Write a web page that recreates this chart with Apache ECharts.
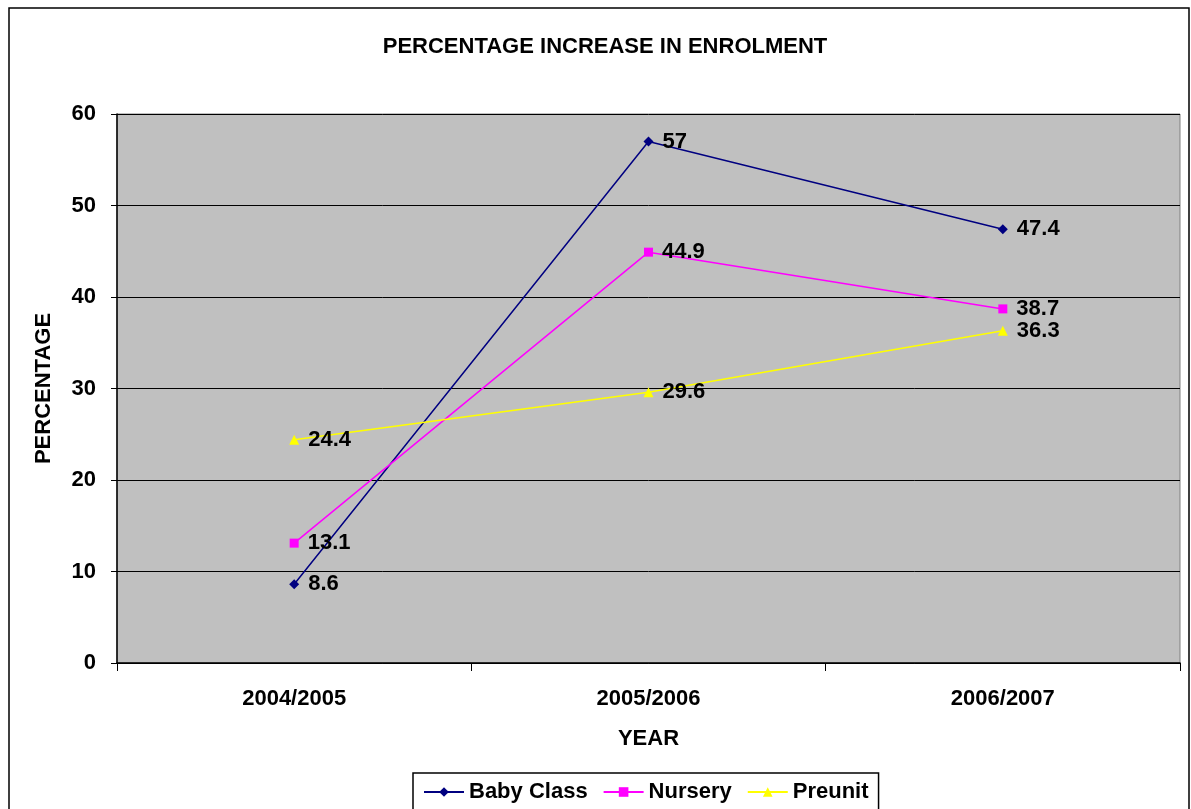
<!DOCTYPE html>
<html><head><meta charset="utf-8">
<script src="https://cdn.jsdelivr.net/npm/echarts@6/dist/echarts.min.js"></script>
<style>html,body{margin:0;padding:0;background:#fff}#c{width:1191px;height:809px}</style>
</head><body><div id="c"></div>
<script>
const categories = ['2004/2005', '2005/2006', '2006/2007'];
const babyClass = [8.6, 57, 47.4];
const nursery = [13.1, 44.9, 38.7];
const preunit = [24.4, 29.6, 36.3];
const yTicks = {min: 0, max: 60, interval: 10};

const chart = echarts.init(document.getElementById('c'), null, {renderer: 'canvas'});
const font = 'Arial, "Liberation Sans", sans-serif';
const FS = 22;
function ser(name, data, color, symbol, size) {
  return {
    name, type: 'line', data, symbol, symbolSize: size,
    itemStyle: {color}, lineStyle: {color, width: 1.5},
    label: {show: true, position: 'right', distance: 9, color: '#000', fontFamily: font, fontWeight: 'bold', fontSize: FS},
    emphasis: {disabled: true}, animation: false
  };
}
chart.setOption({
  animation: false,
  backgroundColor: '#fff',
  title: {text: 'PERCENTAGE INCREASE IN ENROLMENT', left: 600, top: 31, textAlign: 'center',
    textStyle: {fontFamily: font, fontWeight: 'bold', fontSize: FS, color: '#000'}},
  graphic: [{type: 'rect', shape: {x: 9, y: 8, width: 1180, height: 820}, style: {fill: 'none', stroke: '#000', lineWidth: 1.5}, z: 100}],
  grid: {left: 117, right: 11, top: 114, bottom: 146, show: true, backgroundColor: '#C0C0C0', borderColor: '#808080', borderWidth: 1},
  legend: {left: 413, top: 773, padding: [8, 10, 14, 10], itemGap: 15, itemWidth: 40, itemHeight: 12,
    borderColor: '#000', borderWidth: 1.5, backgroundColor: '#fff',
    textStyle: {fontFamily: font, fontWeight: 'bold', fontSize: FS, color: '#000'},
    data: ['Baby Class', 'Nursery', 'Preunit']},
  xAxis: {type: 'category', data: categories, boundaryGap: true,
    name: 'YEAR', nameLocation: 'middle', nameGap: 65,
    nameTextStyle: {fontFamily: font, fontWeight: 'bold', fontSize: FS, color: '#000'},
    axisLine: {lineStyle: {color: '#000', width: 1.5}},
    axisTick: {show: true, alignWithLabel: false, length: 8, lineStyle: {color: '#000'}},
    axisLabel: {fontFamily: font, fontWeight: 'bold', fontSize: FS, color: '#000', margin: 25}},
  yAxis: {type: 'value', min: yTicks.min, max: yTicks.max, interval: yTicks.interval,
    name: 'PERCENTAGE', nameLocation: 'middle', nameGap: 62, nameRotate: 90,
    nameTextStyle: {fontFamily: font, fontWeight: 'bold', fontSize: FS, color: '#000'},
    axisLine: {show: true, lineStyle: {color: '#000', width: 1.5}},
    axisTick: {show: true, length: 6, lineStyle: {color: '#000'}},
    splitLine: {lineStyle: {color: '#000', width: 1}},
    axisLabel: {fontFamily: font, fontWeight: 'bold', fontSize: FS, color: '#000', margin: 21}},
  series: [
    ser('Baby Class', babyClass, '#000080', 'diamond', 10),
    ser('Nursery', nursery, '#FF00FF', 'rect', 9),
    ser('Preunit', preunit, '#FFFF00', 'triangle', 10)
  ]
});
</script></body></html>
